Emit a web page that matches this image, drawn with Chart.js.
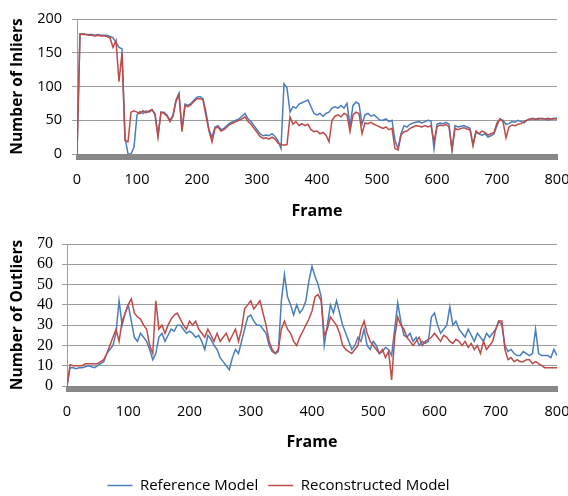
<!DOCTYPE html>
<html>
<head>
<meta charset="utf-8">
<script src="https://cdn.jsdelivr.net/npm/chart.js@4.4.0/dist/chart.umd.min.js"></script>
<style>
  html, body { margin: 0; padding: 0; background: #fff; overflow: hidden; }
  #top { position: absolute; left: 0; top: 0; width: 568px; height: 225px; }
  #bottom { position: absolute; left: 0; top: 225px; width: 568px; height: 278px; }
</style>
</head>
<body>
<div id="top"><canvas id="inliers"></canvas></div>
<div id="bottom"><canvas id="outliers"></canvas></div>
<script>
// frame numbers, one sample every 5 frames
const frames = Array.from({ length: 161 }, (_, i) => i * 5);

const frameTicks = [0, 100, 200, 300, 400, 500, 600, 700, 800];
const inlierTicks = [0, 50, 100, 150, 200];
const outlierTicks = [0, 10, 20, 30, 40, 50, 60, 70];

const seriesNames = ["Reference Model", "Reconstructed Model"];

const inliersReference = [
  0,178,178,177,177,177,176,177,176,176,176,174,172,165,158,156,25,0,0,10,
  58,63,60,64,62,65,60,28,62,62,58,50,58,80,90,36,74,72,75,80,
  84,85,82,62,36,25,40,42,36,38,42,46,48,50,52,56,60,52,48,42,
  36,30,27,28,27,30,26,20,8,104,98,62,70,68,74,76,78,80,70,60,
  58,60,56,60,62,68,70,68,72,68,75,42,72,77,74,44,58,60,56,58,
  54,50,50,52,48,50,20,8,30,42,40,44,46,47,48,46,48,50,49,8,
  44,46,45,47,44,6,42,40,41,42,40,38,14,32,30,28,30,25,27,30,
  42,52,50,44,45,48,47,50,48,46,50,52,53,51,52,53,52,50,52,53,
  53
];
const inliersReconstructed = [
  0,178,177,177,176,176,175,176,175,175,174,172,158,168,107,150,20,18,62,64,
  62,60,64,61,64,66,58,25,62,60,56,48,56,78,88,33,72,70,73,78,
  82,82,80,56,34,18,38,40,34,36,40,44,46,48,50,52,55,48,44,38,
  32,26,23,24,22,25,22,16,14,13,14,55,44,48,42,45,42,44,36,33,
  34,30,32,28,18,50,56,58,55,60,58,33,58,62,60,30,46,45,47,44,
  42,40,38,40,36,38,8,6,28,33,34,38,40,42,41,40,42,40,42,18,
  40,43,42,44,40,6,38,36,38,39,37,36,12,34,30,34,32,28,30,32,
  46,52,48,24,40,43,42,44,45,48,50,52,52,52,53,52,52,53,52,52,
  52
];
const outliersReference = [
  0,9,9,8.5,9,9,9.5,10,9.5,9,10,11,12,16,18,20,26,42,30,36,
  40,32,24,22,26,24,22,18,13,16,24,26,22,25,28,27,30,30,28,26,
  27,26,24,25,22,18,25,23,20,18,14,12,10,8,14,18,16,22,28,34,
  35,32,30,30,28,26,20,17,16,17,42,55,44,40,35,40,36,38,42,52,
  59,54,50,44,20,30,40,36,42,36,30,26,22,18,20,24,22,28,20,18,
  22,20,16,17,19,18,15,28,41,32,25,24,26,22,24,20,22,21,22,34,
  36,30,26,28,30,39,30,32,28,26,24,28,25,22,26,24,22,26,24,26,
  28,32,30,20,17,18,16,15,15,17,16,15,16,28,16,15,15,15,14,18,
  15
];
const outliersReconstructed = [
  0,10.5,10,10,10,10,11,11,11,11,11,12,13,16,20,24,28,22,32,36,
  40,43,36,34,33,30,28,20,16,42,28,30,26,30,33,35,36,33,30,28,
  32,30,32,28,26,24,28,25,22,26,22,24,26,22,25,28,22,28,38,40,
  42,38,40,42,36,30,22,18,16,18,28,32,28,26,22,20,24,27,30,33,
  37,44,45,42,25,28,34,32,30,26,20,18,17,16,18,20,28,32,26,22,
  20,18,16,18,14,17,3,24,34,30,28,24,22,20,22,24,20,22,23,24,
  26,24,22,25,24,22,21,23,22,20,22,19,21,18,20,16,22,18,20,22,
  28,32,32,18,13,14,12,13,12,12,13,13,11,12,11,10,9,9,9,9,
  9
];

const blue = "#4a7ebb";
const red = "#be4b48";
const gridGrey = "#9d9d9d";

Chart.defaults.color = "#000";
Chart.defaults.animation = false;

// thick grey band under the plot area
const axisBar = {
  id: "axisBar",
  beforeDatasetsDraw(chart) {
    const { ctx, chartArea: a } = chart;
    ctx.save();
    ctx.fillStyle = "#888888";
    ctx.fillRect(a.left - 1, a.bottom, a.right - a.left + 2, 6);
    ctx.restore();
  }
};

function points(values) {
  return frames.map((f, i) => ({ x: f, y: values[i] }));
}

function makeChart(id, refValues, recValues, yTicks, yTitle, opts) {
  return new Chart(document.getElementById(id), {
    type: "line",
    data: {
      datasets: [
        { label: seriesNames[0], data: points(refValues), borderColor: blue, backgroundColor: blue,
          borderWidth: 1.5, pointRadius: 0, order: 2 },
        { label: seriesNames[1], data: points(recValues), borderColor: red, backgroundColor: red,
          borderWidth: 1.5, pointRadius: 0, order: 1 }
      ]
    },
    options: {
      responsive: true,
      maintainAspectRatio: false,
      layout: { padding: { top: 19, right: 11, left: 0, bottom: 0 } },
      plugins: {
        tooltip: { enabled: false },
        legend: opts.legend
      },
      scales: {
        x: {
          type: "linear",
          min: frameTicks[0],
          max: frameTicks[frameTicks.length - 1],
          afterBuildTicks: s => { s.ticks = frameTicks.map(v => ({ value: v })); },
          afterFit: s => { s.height = opts.xHeight; s.paddingLeft = 0; s.paddingRight = 0; },
          grid: { display: false, drawTicks: false },
          border: { display: false },
          ticks: { font: { family: "Open Sans", size: 14.5 }, padding: 17, maxRotation: 0, autoSkip: false },
          title: { display: true, text: "Frame", font: { family: "Open Sans", size: 16, weight: "bold" },
                   padding: { top: 0, bottom: opts.titlePad } }
        },
        y: {
          min: yTicks[0],
          max: yTicks[yTicks.length - 1],
          afterBuildTicks: s => { s.ticks = yTicks.map(v => ({ value: v })); },
          afterFit: s => { s.width = opts.yWidth; },
          grid: { color: gridGrey, tickLength: 5 },
          border: { display: true, color: gridGrey },
          ticks: { font: opts.yFont, padding: opts.yPad, autoSkip: false },
          title: { display: true, text: yTitle, font: { family: "Open Sans", size: 15.5, weight: "bold" },
                   padding: { top: 8, bottom: 0 } }
        }
      }
    },
    plugins: [axisBar]
  });
}

makeChart("inliers", inliersReference, inliersReconstructed, inlierTicks, "Number of Inliers", {
  legend: { display: false },
  xHeight: 71,
  titlePad: 4.4,
  yWidth: 77,
  yFont: { family: "Open Sans", size: 14.5 },
  yPad: 10
});

makeChart("outliers", outliersReference, outliersReconstructed, outlierTicks, "Number of Outliers", {
  legend: {
    display: true,
    position: "bottom",
    labels: {
      usePointStyle: true,
      pointStyle: "line",
      pointStyleWidth: 25,
      padding: 10,
      font: { family: "Open Sans", size: 15 },
      sort: (a, b) => a.datasetIndex - b.datasetIndex
    }
  },
  xHeight: 82,
  titlePad: 16.4,
  yWidth: 67,
  yFont: { family: "Liberation Serif", size: 16 },
  yPad: 9
});
</script>
</body>
</html>
